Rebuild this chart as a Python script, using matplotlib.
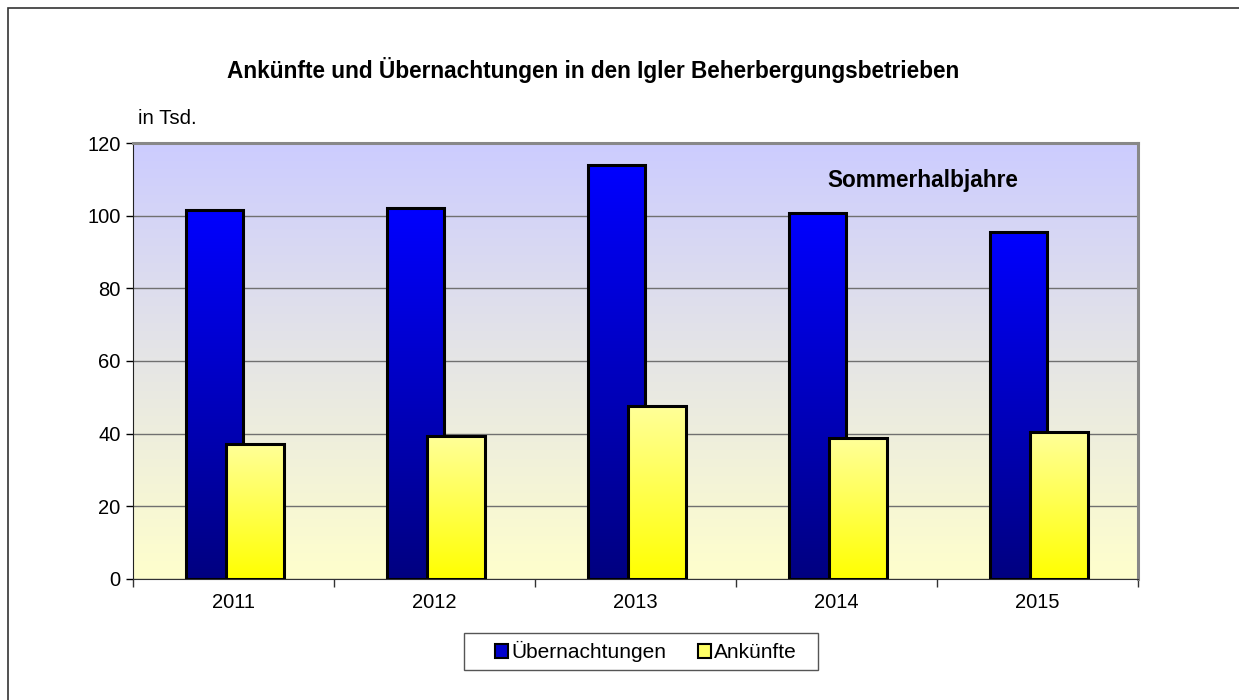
import numpy as np
import matplotlib.pyplot as plt
from matplotlib.patches import Patch, Rectangle
from matplotlib.colors import LinearSegmentedColormap

plt.rcParams['font.family'] = ['Liberation Sans', 'DejaVu Sans']

# Daten (in Tsd.), Sommerhalbjahre
jahre = ['2011', '2012', '2013', '2014', '2015']
uebernachtungen = [101.6, 102.1, 113.9, 100.7, 95.5]
ankuenfte = [37.2, 39.4, 47.6, 38.8, 40.5]

fig = plt.figure(figsize=(12.39, 7.0), dpi=100)
ax = fig.add_axes([0.1073, 0.1729, 0.8112, 0.6228])

x = np.arange(len(jahre))
width = 0.285
off_blue = -0.095
off_yel = 0.107

# Hintergrund mit Verlauf
bg = LinearSegmentedColormap.from_list('bg', ['#ffffcc', '#ccccff'])
grad = np.linspace(0, 1, 256).reshape(-1, 1)
ax.imshow(grad, cmap=bg, origin='lower', aspect='auto',
          extent=[-0.5, 4.5, 0, 120], zorder=0)

blue_cm = LinearSegmentedColormap.from_list('b', ['#000080', '#0000ff'])
yel_cm = LinearSegmentedColormap.from_list('y', ['#ffff00', '#ffff99'])

def gradient_bars(xpos, values, cmap, z):
    bars = ax.bar(xpos, values, width, facecolor='none', edgecolor='black',
                  linewidth=2.2, zorder=z + 1)
    for b in bars:
        x0, w, h = b.get_x(), b.get_width(), b.get_height()
        ax.imshow(grad, cmap=cmap, origin='lower', aspect='auto',
                  extent=[x0, x0 + w, 0, h], zorder=z)
    return bars

gradient_bars(x + off_blue, uebernachtungen, blue_cm, 3)
gradient_bars(x + off_yel, ankuenfte, yel_cm, 5)

ax.set_xlim(-0.5, 4.5)
ax.set_ylim(0, 120)
ax.set_yticks(np.arange(0, 121, 20))
ax.set_xticks(x)
ax.set_xticklabels(jahre)
ax.set_xticks(np.arange(-0.5, 4.6, 1), minor=True)
ax.tick_params(axis='x', which='major', length=0, pad=10, labelsize=14.5)
ax.tick_params(axis='x', which='minor', length=6, width=1, color='#333333')
ax.tick_params(axis='y', length=5, width=1, labelsize=14.5, pad=4)
ax.yaxis.grid(True, color='#707070', linewidth=1)
for gl in ax.get_ygridlines():
    gl.set_zorder(1)

ax.spines['left'].set_color('#222222')
ax.spines['bottom'].set_color('#333333')
ax.spines['top'].set_color('#888888')
ax.spines['top'].set_linewidth(2.2)
ax.spines['right'].set_color('#888888')
ax.spines['right'].set_linewidth(2.2)

ax.text(0.786, 0.915, 'Sommerhalbjahre', transform=ax.transAxes,
        fontsize=16.3, fontweight='bold', ha='center', va='center', zorder=10)

fig.text(0.479, 0.9, 'Ankünfte und Übernachtungen in den Igler Beherbergungsbetrieben',
         fontsize=16.3, fontweight='bold', ha='center', va='center')
fig.text(0.111, 0.831, 'in Tsd.', fontsize=14.7, ha='left', va='center')

# Legende (Rahmen separat gezeichnet)
handles = [Patch(facecolor='#0000cc', edgecolor='black', linewidth=1.5, label='Übernachtungen'),
           Patch(facecolor='#ffff66', edgecolor='black', linewidth=1.5, label='Ankünfte')]
leg = fig.legend(handles=handles, loc='center', bbox_to_anchor=(0.5215, 0.069), ncol=2,
                 fontsize=15, frameon=False, handlelength=0.6,
                 handleheight=0.6, handletextpad=0.15, columnspacing=1.55)
fig.patches.append(Rectangle((464 / 1239, 1 - 670 / 700), 354 / 1239, 37 / 700,
                             transform=fig.transFigure, fill=False,
                             edgecolor='#555555', linewidth=1.0))

# Rahmen
fig.patches.append(Rectangle((8 / 1239, -0.1), 1.2, 1.1 - 8 / 700,
                             transform=fig.transFigure, fill=False,
                             edgecolor='#333333', linewidth=1.2))

fig.savefig('out.png', dpi=100)
